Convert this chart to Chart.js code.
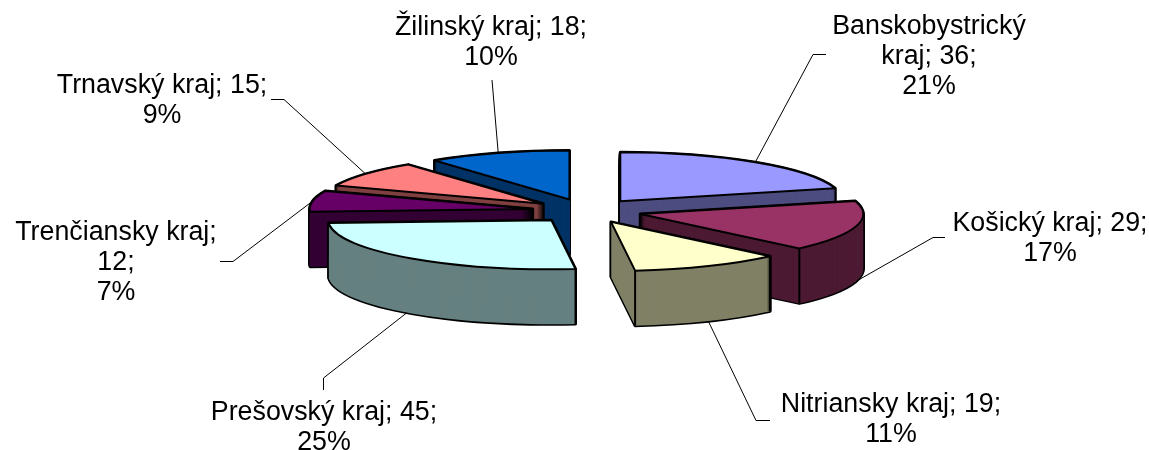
<!DOCTYPE html>
<html>
<head>
<meta charset="utf-8">
<style>
  html, body { margin: 0; padding: 0; background: #fff; }
  #wrap { width: 1149px; height: 450px; }
</style>
<script src="https://cdn.jsdelivr.net/npm/chart.js@4/dist/chart.umd.min.js"></script>
</head>
<body>
<div id="wrap"><canvas id="graf" width="1149" height="450"></canvas></div>
<script>
// data
const categories = ["Banskobystrický kraj", "Košický kraj", "Nitriansky kraj", "Prešovský kraj", "Trenčiansky kraj", "Trnavský kraj", "Žilinský kraj"];
const values = [36, 29, 19, 45, 12, 15, 18];
const percents = [21, 17, 11, 25, 7, 9, 10];

// colours
const topColors = ["#9999FF", "#993366", "#FFFFCC", "#CCFFFF", "#660066", "#FF8080", "#0066CC"];
const sideColors = ["#4D4D80", "#4D1A33", "#808066", "#668080", "#330033", "#804040", "#003366"];

// look of the fake 3D pie
const centerY = 211;
const squash = 0.22;
const depth = 55;
const explode = 55;
const pieRadius = 223;

// label layout: centre x, y of the first line, word count after which a line breaks, leader elbow points
const labelX = [929, 1050, 891, 324, 116, 162, 491];
const labelY = [27, 224, 405, 413, 233, 86, 28];
const labelBreaks = [[1], [], [], [], [2], [], []];
const leaders = [
  [[826, 54.5], [813, 54.5]],
  [[945, 237.5], [933, 237.5]],
  [[770, 420.5], [756, 420.5]],
  [[323.5, 390], [323.5, 378]],
  [[220, 261.5], [233, 261.5]],
  [[271, 99.5], [284, 99.5]],
  [[492, 80]]
];
const lineGap = 30;

// position of a pie point on the page, after explode and squash
function project(arc, angle, r, down) {
  const mid = (arc.startAngle + arc.endAngle) / 2;
  return {
    x: arc.x + Math.cos(mid) * explode + Math.cos(angle) * r,
    y: centerY + (Math.sin(mid) * explode + Math.sin(angle) * r) * squash + down
  };
}

function slicePath(ctx, arc, down) {
  const mid = (arc.startAngle + arc.endAngle) / 2;
  ctx.save();
  ctx.translate(arc.x + Math.cos(mid) * explode, centerY + Math.sin(mid) * explode * squash + down);
  ctx.scale(1, squash);
  ctx.beginPath();
  ctx.moveTo(0, 0);
  ctx.arc(0, 0, arc.outerRadius, arc.startAngle, arc.endAngle);
  ctx.closePath();
  ctx.restore();
}

const pie3d = {
  id: "pie3d",
  beforeDatasetDraw(chart, args) {
    const ctx = chart.ctx;
    const arcs = args.meta.data;
    const mids = arcs.map(a => Math.sin((a.startAngle + a.endAngle) / 2));
    const order = arcs.map((a, i) => i).sort((a, b) => mids[a] - mids[b]);

    ctx.save();
    ctx.lineJoin = "round";
    order.forEach(i => {
      const arc = arcs[i];
      // black outline of the extruded body
      ctx.strokeStyle = "#000";
      ctx.lineWidth = 3;
      for (let d = depth; d >= 0; d--) {
        slicePath(ctx, arc, d);
        ctx.stroke();
      }
      // side colour
      ctx.fillStyle = sideColors[i];
      for (let d = depth; d >= 0; d--) {
        slicePath(ctx, arc, d);
        ctx.fill();
      }
      // front corners show as vertical edges
      ctx.lineWidth = 2;
      [arc.startAngle, arc.endAngle].forEach(a => {
        if (Math.sin(a) > 0.2) {
          const p = project(arc, a, arc.outerRadius, 0);
          ctx.beginPath();
          ctx.moveTo(p.x, p.y);
          ctx.lineTo(p.x, p.y + depth);
          ctx.stroke();
        }
      });
      // top face, drawn by the chart's own arc element
      const mid = (arc.startAngle + arc.endAngle) / 2;
      ctx.save();
      ctx.translate(Math.cos(mid) * explode, centerY + Math.sin(mid) * explode * squash);
      ctx.translate(arc.x, 0);
      ctx.scale(1, squash);
      ctx.translate(-arc.x, -arc.y);
      arc.draw(ctx);
      ctx.restore();
      slicePath(ctx, arc, 0);
      ctx.lineWidth = 2;
      ctx.stroke();
    });
    ctx.restore();
    return false;
  },
  afterDraw(chart) {
    const ctx = chart.ctx;
    const arcs = chart.getDatasetMeta(0).data;
    ctx.save();
    // leader lines
    ctx.strokeStyle = "#000";
    ctx.lineWidth = 1;
    arcs.forEach((arc, i) => {
      const mid = (arc.startAngle + arc.endAngle) / 2;
      const end = project(arc, mid, arc.outerRadius, Math.sin(mid) > 0 ? depth : 0);
      ctx.beginPath();
      leaders[i].forEach((p, n) => n ? ctx.lineTo(p[0], p[1]) : ctx.moveTo(p[0], p[1]));
      ctx.lineTo(end.x, end.y);
      ctx.stroke();
    });
    // data labels
    ctx.fillStyle = "#000";
    ctx.font = "26.8px 'Liberation Sans', Arial, sans-serif";
    ctx.textAlign = "center";
    ctx.textBaseline = "middle";
    categories.forEach((name, i) => {
      const words = (name + "; " + values[i] + ";").split(" ");
      const lines = [];
      let from = 0;
      labelBreaks[i].concat(words.length).forEach(b => {
        lines.push(words.slice(from, b).join(" "));
        from = b;
      });
      lines.push(percents[i] + "%");
      lines.forEach((t, n) => ctx.fillText(t, labelX[i], labelY[i] + n * lineGap));
    });
    ctx.restore();
  }
};

new Chart(document.getElementById("graf"), {
  type: "pie",
  data: {
    labels: categories,
    datasets: [{
      data: values,
      backgroundColor: topColors,
      borderWidth: 0
    }]
  },
  options: {
    responsive: false,
    animation: false,
    radius: pieRadius,
    layout: { padding: { left: 25 } },
    plugins: { legend: { display: false }, tooltip: { enabled: false } }
  },
  plugins: [pie3d]
});
</script>
</body>
</html>
